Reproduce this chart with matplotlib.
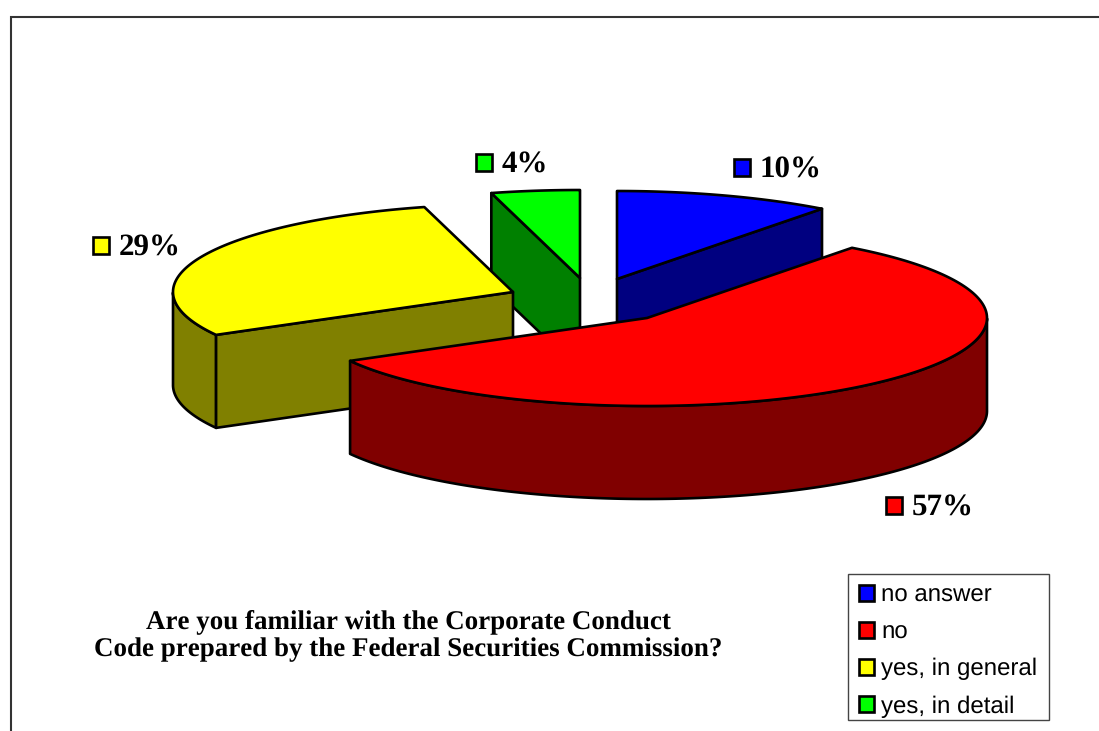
import numpy as np
import matplotlib
matplotlib.use("Agg")
import matplotlib.pyplot as plt
from matplotlib.patches import Patch, Rectangle

plt.rcParams["text.hinting"] = "no_hinting"
plt.rcParams["text.hinting_factor"] = 1

# Survey answers, in percent (labels show them rounded)
categories = ["no answer", "no", "yes, in general", "yes, in detail"]
shares = [10.3, 56.6, 28.9, 4.2]
share_labels = ["10%", "57%", "29%", "4%"]
title_text = "Are you familiar with the Corporate Conduct\nCode prepared by the Federal Securities Commission?"

colors = ["#0000ff", "#ff0000", "#ffff00", "#00ff00"]
side_colors = ["#000080", "#800000", "#808000", "#008000"]

# Pie geometry in pixels: exploded centre of every slice, ellipse radii, depth
centers = [(617, 279), (647, 318), (513, 292), (580, 278)]
rx, ry = 340, 88
depth = 93
edge_width = 1.9

# Square + text position for the value labels (left of square, middle y)
label_pos = [(733.5, 167), (885.5, 505), (92.5, 245), (475.5, 162)]

fig = plt.figure(figsize=(10.99, 7.31), dpi=100)
ax = fig.add_axes([0, 0, 1, 1])
ax.set_xlim(0, 1099)
ax.set_ylim(731, 0)
ax.axis("off")


def rim(center, angles):
    t = np.radians(angles)
    return center[0] + rx * np.cos(t), center[1] - ry * np.sin(t)


def draw_face(xs, ys, color, z):
    ax.fill(xs, ys, facecolor=color, edgecolor="black", linewidth=edge_width,
            joinstyle="round", zorder=z)


# Slices run clockwise from twelve o'clock
bounds = 90 - 3.6 * np.cumsum([0] + shares)

# Back to front: green, blue, yellow, red
for z, i in enumerate([3, 0, 2, 1]):
    start, end = bounds[i], bounds[i + 1]
    c = centers[i]
    angles = np.linspace(start, end, 200)
    x, y = rim(c, angles)

    # Outer wall, only the part that faces the viewer
    front = angles[np.sin(np.radians(angles)) <= 0]
    if len(front) > 1:
        fx, fy = rim(c, front)
        draw_face(np.r_[fx, fx[::-1]], np.r_[fy, fy[::-1] + depth], side_colors[i], z * 3 + 1)

    # Cut walls, when they face the viewer
    for edge, normal in [(start, start + 90), (end, end - 90)]:
        if np.sin(np.radians(normal)) < -1e-6:
            ex, ey = rim(c, [edge])
            draw_face([c[0], ex[0], ex[0], c[0]], [c[1], ey[0], ey[0] + depth, c[1] + depth],
                      side_colors[i], z * 3 + 2)

    # Top
    draw_face(np.r_[c[0], x], np.r_[c[1], y], colors[i], z * 3 + 3)

# Value labels
for i in range(len(shares)):
    lx, ly = label_pos[i]
    ax.add_patch(Rectangle((lx, ly - 8), 16.5, 16.5, facecolor=colors[i], edgecolor="black",
                           linewidth=edge_width, zorder=20))
    ax.text(lx + 26.5, ly + 3, share_labels[i], family="Liberation Serif", fontweight="bold",
            fontsize=22, va="center", ha="left", color="black", zorder=20)

# Question
ax.text(408, 635.5, title_text, family="Liberation Serif", fontweight="bold", fontsize=19.6,
        ha="center", va="center", linespacing=1.2, color="black")

# Frame, only top and left are inside the picture
ax.plot([11, 11, 1099], [731, 17, 17], color="#333333", linewidth=1.5, solid_joinstyle="miter", zorder=1)

# Legend, box drawn apart so its height can follow the picture
ax.add_patch(Rectangle((848, 574), 201, 146, facecolor="white", edgecolor="#444444", linewidth=1.0, zorder=29))
handles = [Patch(facecolor=colors[i], edgecolor="black", linewidth=edge_width) for i in range(4)]
leg = ax.legend(handles, categories, loc="upper left", bbox_to_anchor=(859 / 1099, 1 - 584 / 731),
                bbox_transform=ax.transAxes, prop={"family": "Liberation Sans", "size": 17.6},
                frameon=False, borderaxespad=0, borderpad=0, labelspacing=0.6,
                handlelength=0.62, handleheight=0.62, handletextpad=0.3)
leg.set_zorder(30)

fig.savefig("out.png", dpi=100)
